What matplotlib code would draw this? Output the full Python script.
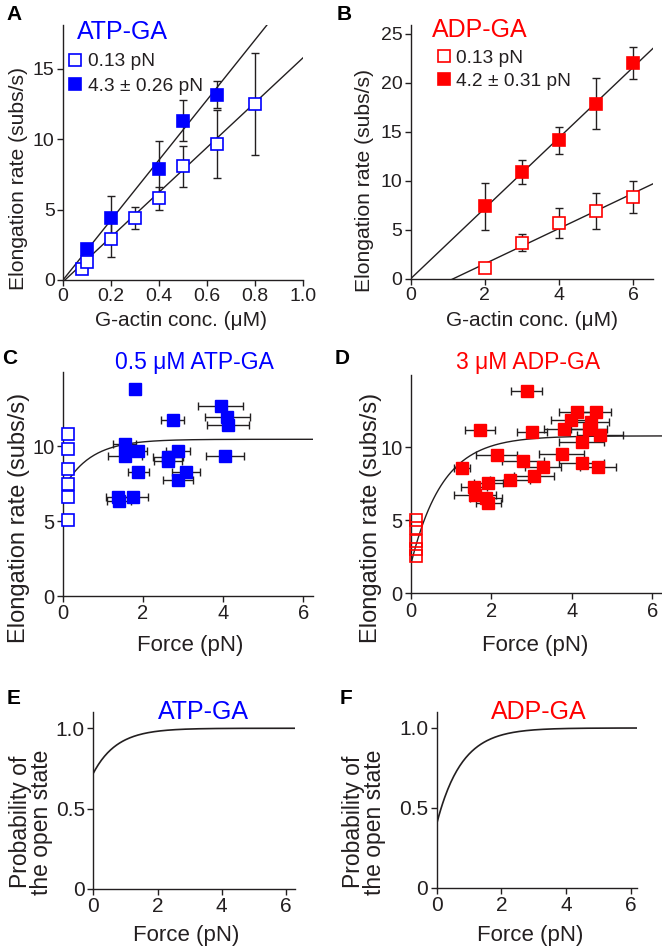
import numpy as np
import matplotlib
matplotlib.use('Agg')
import matplotlib.pyplot as plt

plt.rcParams['font.family'] = ['Liberation Sans', 'DejaVu Sans']

BLUE = '#0000ff'
RED = '#ff0000'
INK = '#231f20'

# ---------------- data ----------------
# Panel A (ATP-GA, concentration series)
a_conc_low = [0.08, 0.1, 0.2, 0.3, 0.4, 0.5, 0.64, 0.8]
a_rate_low = [0.76, 1.3, 2.9, 4.4, 5.8, 8.06, 9.67, 12.5]
a_err_low = [0.2, 0.3, 1.25, 0.77, 0.8, 1.45, 2.4, 3.6]
a_conc_high = [0.1, 0.2, 0.4, 0.5, 0.64]
a_rate_high = [2.2, 4.4, 7.9, 11.3, 13.15]
a_err_high = [0.3, 1.55, 2.0, 1.45, 0.95]
a_fit_low = (15.9, -0.13)     # slope, intercept
a_fit_high = (21.3, 0.0)

# Panel B (ADP-GA, concentration series)
b_conc = [2, 3, 4, 5, 6]
b_rate_low = [1.12, 3.67, 5.7, 6.9, 8.36]
b_err_low = [0.0, 0.85, 1.55, 1.85, 1.65]
b_rate_high = [7.4, 10.9, 14.13, 17.87, 22.0]
b_err_high = [2.4, 1.2, 1.35, 2.6, 1.65]
b_fit_low = (1.80, -2.07)
b_fit_high = (3.6, 0.0)

# Panel C (0.5 uM ATP-GA, force series)
c_force_open = [0.13, 0.13, 0.13, 0.13, 0.13, 0.13]
c_rate_open = [10.85, 9.85, 8.51, 7.52, 6.65, 5.09]
c_force = [1.80, 3.94, 2.74, 4.11, 4.13, 1.55, 1.55, 1.89, 2.62, 2.62, 2.87,
           4.05, 1.89, 3.07, 2.87, 1.39, 1.41, 1.76]
c_rate = [13.84, 12.73, 11.74, 11.97, 11.45, 10.18, 9.38, 9.67, 9.29, 9.0,
          9.73, 9.38, 8.26, 8.26, 7.77, 6.65, 6.32, 6.65]
c_ferr = [0.12, 0.56, 0.28, 0.56, 0.52, 0.29, 0.42, 0.21, 0.38, 0.35, 0.3,
          0.48, 0.27, 0.35, 0.37, 0.32, 0.3, 0.36]
c_fit = (7.1, 10.48, 1.48)    # value at 0, plateau, rate

# Panel D (3 uM ADP-GA, force series)
d_force_open = [0.13, 0.13, 0.13, 0.13, 0.13]
d_rate_open = [5.0, 4.45, 3.6, 3.05, 2.55]
d_force = [2.88, 4.14, 4.6, 3.99, 4.47, 1.72, 3.02, 3.8, 4.43, 4.7, 4.24,
           2.13, 3.75, 2.78, 1.27, 3.29, 4.24, 4.64, 3.06, 2.47, 1.93, 1.57,
           1.6, 1.87, 1.93]
d_rate = [13.86, 12.4, 12.4, 11.87, 11.76, 11.18, 11.02, 11.23, 11.23, 10.84,
          10.38, 9.47, 9.54, 9.06, 8.56, 8.67, 8.9, 8.63, 8.06, 7.76, 7.53,
          7.26, 6.73, 6.5, 6.2]
d_ferr = [0.38, 0.45, 0.37, 0.5, 0.45, 0.37, 0.37, 0.5, 0.45, 0.58, 0.56,
          0.52, 0.56, 0.52, 0.2, 0.45, 0.55, 0.45, 0.49, 0.5, 0.35, 0.33,
          0.52, 0.4, 0.3]
d_fit = (1.94, 10.78, 1.27)

# Panels E, F (probability of open state)
e_fit = (0.72, 1.0, 1.36)
f_fit = (0.40, 1.0, 1.30)

# ---------------- figure ----------------
W, H = 662, 948
fig = plt.figure(figsize=(W / 100, H / 100), dpi=100)


def px_axes(x0, y0, x1, y1):
    return fig.add_axes([x0 / W, 1 - y1 / H, (x1 - x0) / W, (y1 - y0) / H])


def style(ax, fs):
    for s in ('top', 'right'):
        ax.spines[s].set_visible(False)
    for s in ('left', 'bottom'):
        ax.spines[s].set_color(INK)
        ax.spines[s].set_linewidth(1.0)
    ax.tick_params(direction='out', length=4, width=1.0, color=INK,
                   labelcolor=INK, labelsize=fs, pad=2)


def sat(x, p):
    y0, ymax, k = p
    return ymax - (ymax - y0) * np.exp(-k * np.asarray(x))


ms = 8.3
msb = 9.3
eb = dict(fmt='none', ecolor=INK, elinewidth=1.0, capsize=3, capthick=1.0, zorder=3)

# ---- A ----
axA = px_axes(63, 25, 303, 280)
style(axA, 14)
axA.set_xlim(0, 1.0)
axA.set_ylim(0, 18.1)
xx = np.linspace(0, 1.0, 50)
axA.plot(xx, a_fit_high[0] * xx + a_fit_high[1], color=INK, lw=1.0, zorder=2)
axA.plot(xx, a_fit_low[0] * xx + a_fit_low[1], color=INK, lw=1.0, zorder=2)
axA.errorbar(a_conc_low, a_rate_low, yerr=a_err_low, **eb)
axA.errorbar(a_conc_high, a_rate_high, yerr=a_err_high, **eb)
lo, = axA.plot(a_conc_low, a_rate_low, 's', ms=ms, mfc='white', mec=BLUE, mew=1.2, zorder=4)
hi, = axA.plot(a_conc_high, a_rate_high, 's', ms=ms, mfc=BLUE, mec=BLUE, mew=1.2, zorder=4)
axA.set_xticks([0, 0.2, 0.4, 0.6, 0.8, 1.0])
axA.set_xticklabels(['0', '0.2', '0.4', '0.6', '0.8', '1.0'])
axA.set_yticks([0, 5, 10, 15])
axA.legend([lo, hi], ['0.13 pN', '4.3 ± 0.26 pN'], loc='upper left',
           bbox_to_anchor=(-0.005, 0.92), frameon=False, fontsize=13.8,
           handlelength=0.6, handletextpad=0.35, labelspacing=0.38,
           borderaxespad=0, labelcolor=INK)

# ---- B ----
axB = px_axes(410.7, 25, 653.3, 278.7)
style(axB, 14)
axB.set_xlim(0, 6.54)
axB.set_ylim(0, 25.9)
xx = np.linspace(0, 6.54, 50)
axB.plot(xx, b_fit_high[0] * xx + b_fit_high[1], color=INK, lw=1.0, zorder=2)
axB.plot(xx, b_fit_low[0] * xx + b_fit_low[1], color=INK, lw=1.0, zorder=2)
axB.errorbar(b_conc, b_rate_low, yerr=b_err_low, **eb)
axB.errorbar(b_conc, b_rate_high, yerr=b_err_high, **eb)
lo, = axB.plot(b_conc, b_rate_low, 's', ms=ms, mfc='white', mec=RED, mew=1.2, zorder=4)
hi, = axB.plot(b_conc, b_rate_high, 's', ms=ms, mfc=RED, mec=RED, mew=1.2, zorder=4)
axB.set_xticks([0, 2, 4, 6])
axB.set_yticks([0, 5, 10, 15, 20, 25])
axB.legend([lo, hi], ['0.13 pN', '4.2 ± 0.31 pN'], loc='upper left',
           bbox_to_anchor=(0.08, 0.935), frameon=False, fontsize=13.8,
           handlelength=0.6, handletextpad=0.35, labelspacing=0.3,
           borderaxespad=0, labelcolor=INK)

# ---- C ----
axC = px_axes(62.7, 371.7, 313.3, 596)
style(axC, 14.5)
axC.set_xlim(0, 6.25)
axC.set_ylim(0, 15.0)
xx = np.linspace(0, 6.25, 200)
axC.plot(xx, sat(xx, c_fit), color=INK, lw=1.0, zorder=2)
axC.errorbar(c_force, c_rate, xerr=c_ferr, **eb)
axC.plot(c_force_open, c_rate_open, 's', ms=msb - 1, mfc='white', mec=BLUE, mew=1.2,
         zorder=4, clip_on=False)
axC.plot(c_force, c_rate, 's', ms=msb, mfc=BLUE, mec=BLUE, mew=1.0, zorder=4)
axC.set_xticks([0, 2, 4, 6])
axC.set_yticks([0, 5, 10])

# ---- D ----
axD = px_axes(410.7, 375, 661.7, 593.3)
style(axD, 14.5)
axD.set_xlim(0, 6.23)
axD.set_ylim(0, 14.95)
xx = np.linspace(0, 6.23, 200)
axD.plot(xx, sat(xx, d_fit), color=INK, lw=1.0, zorder=2)
axD.errorbar(d_force, d_rate, xerr=d_ferr, **eb)
axD.plot(d_force_open, d_rate_open, 's', ms=msb - 1, mfc='none', mec=RED, mew=1.2,
         zorder=4, clip_on=False)
axD.plot(d_force, d_rate, 's', ms=msb, mfc=RED, mec=RED, mew=1.0, zorder=4)
axD.set_xticks([0, 2, 4, 6])
axD.set_yticks([0, 5, 10])

# ---- E ----
axE = px_axes(93.3, 711.7, 295.3, 889)
style(axE, 15)
axE.set_xlim(0, 6.29)
axE.set_ylim(0, 1.103)
xx = np.linspace(0, 6.29, 200)
axE.plot(xx, sat(xx, e_fit), color=INK, lw=1.2)
axE.set_xticks([0, 2, 4, 6])
axE.set_yticks([0, 0.5, 1.0])
axE.set_yticklabels(['0', '0.5', '1.0'])

# ---- F ----
axF = px_axes(436.7, 711.7, 636.7, 887.7)
style(axF, 15)
axF.set_xlim(0, 6.19)
axF.set_ylim(0, 1.102)
xx = np.linspace(0, 6.19, 200)
axF.plot(xx, sat(xx, f_fit), color=INK, lw=1.2)
axF.set_xticks([0, 2, 4, 6])
axF.set_yticks([0, 0.5, 1.0])
axF.set_yticklabels(['0', '0.5', '1.0'])

# ---------------- texts ----------------
def t(x, y, s, **kw):
    fig.text(x / W, 1 - y / H, s, **kw)

ctr = dict(color=INK, ha='center', va='center')
# panel letters
for (x, y, s) in [(14, 15, 'A'), (344, 15, 'B'), (10, 358, 'C'), (342, 358, 'D'),
                  (14, 699, 'E'), (346, 699, 'F')]:
    t(x, y, s, fontsize=15, fontweight='bold', color='black', ha='center', va='center')

# titles
t(122, 32, 'ATP-GA', fontsize=18, color=BLUE, ha='center', va='center')
t(480, 30, 'ADP-GA', fontsize=18, color=RED, ha='center', va='center')
t(194, 363, '0.5 μM ATP-GA', fontsize=16.5, color=BLUE, ha='center', va='center')
t(528, 363, '3 μM ADP-GA', fontsize=16.5, color=RED, ha='center', va='center')
t(203, 712, 'ATP-GA', fontsize=18, color=BLUE, ha='center', va='center')
t(539, 712, 'ADP-GA', fontsize=18, color=RED, ha='center', va='center')

# x labels
t(181, 321, 'G-actin conc. (μM)', fontsize=15, **ctr)
t(532, 321, 'G-actin conc. (μM)', fontsize=15, **ctr)
t(190, 646, 'Force (pN)', fontsize=16, **ctr)
t(535, 646, 'Force (pN)', fontsize=16, **ctr)
t(186, 935, 'Force (pN)', fontsize=16, **ctr)
t(530, 935, 'Force (pN)', fontsize=16, **ctr)

# y labels
t(19, 178, 'Elongation rate (subs/s)', rotation=90, fontsize=15.2, **ctr)
t(364, 180, 'Elongation rate (subs/s)', rotation=90, fontsize=15.2, **ctr)
t(19, 518, 'Elongation rate (subs/s)', rotation=90, fontsize=17, **ctr)
t(371, 518, 'Elongation rate (subs/s)', rotation=90, fontsize=17, **ctr)
t(31, 822, 'Probability of\nthe open state', rotation=90, fontsize=16.5,
  linespacing=0.92, **ctr)
t(364, 822, 'Probability of\nthe open state', rotation=90, fontsize=16.5,
  linespacing=0.92, **ctr)

fig.savefig('out.png', dpi=100)
